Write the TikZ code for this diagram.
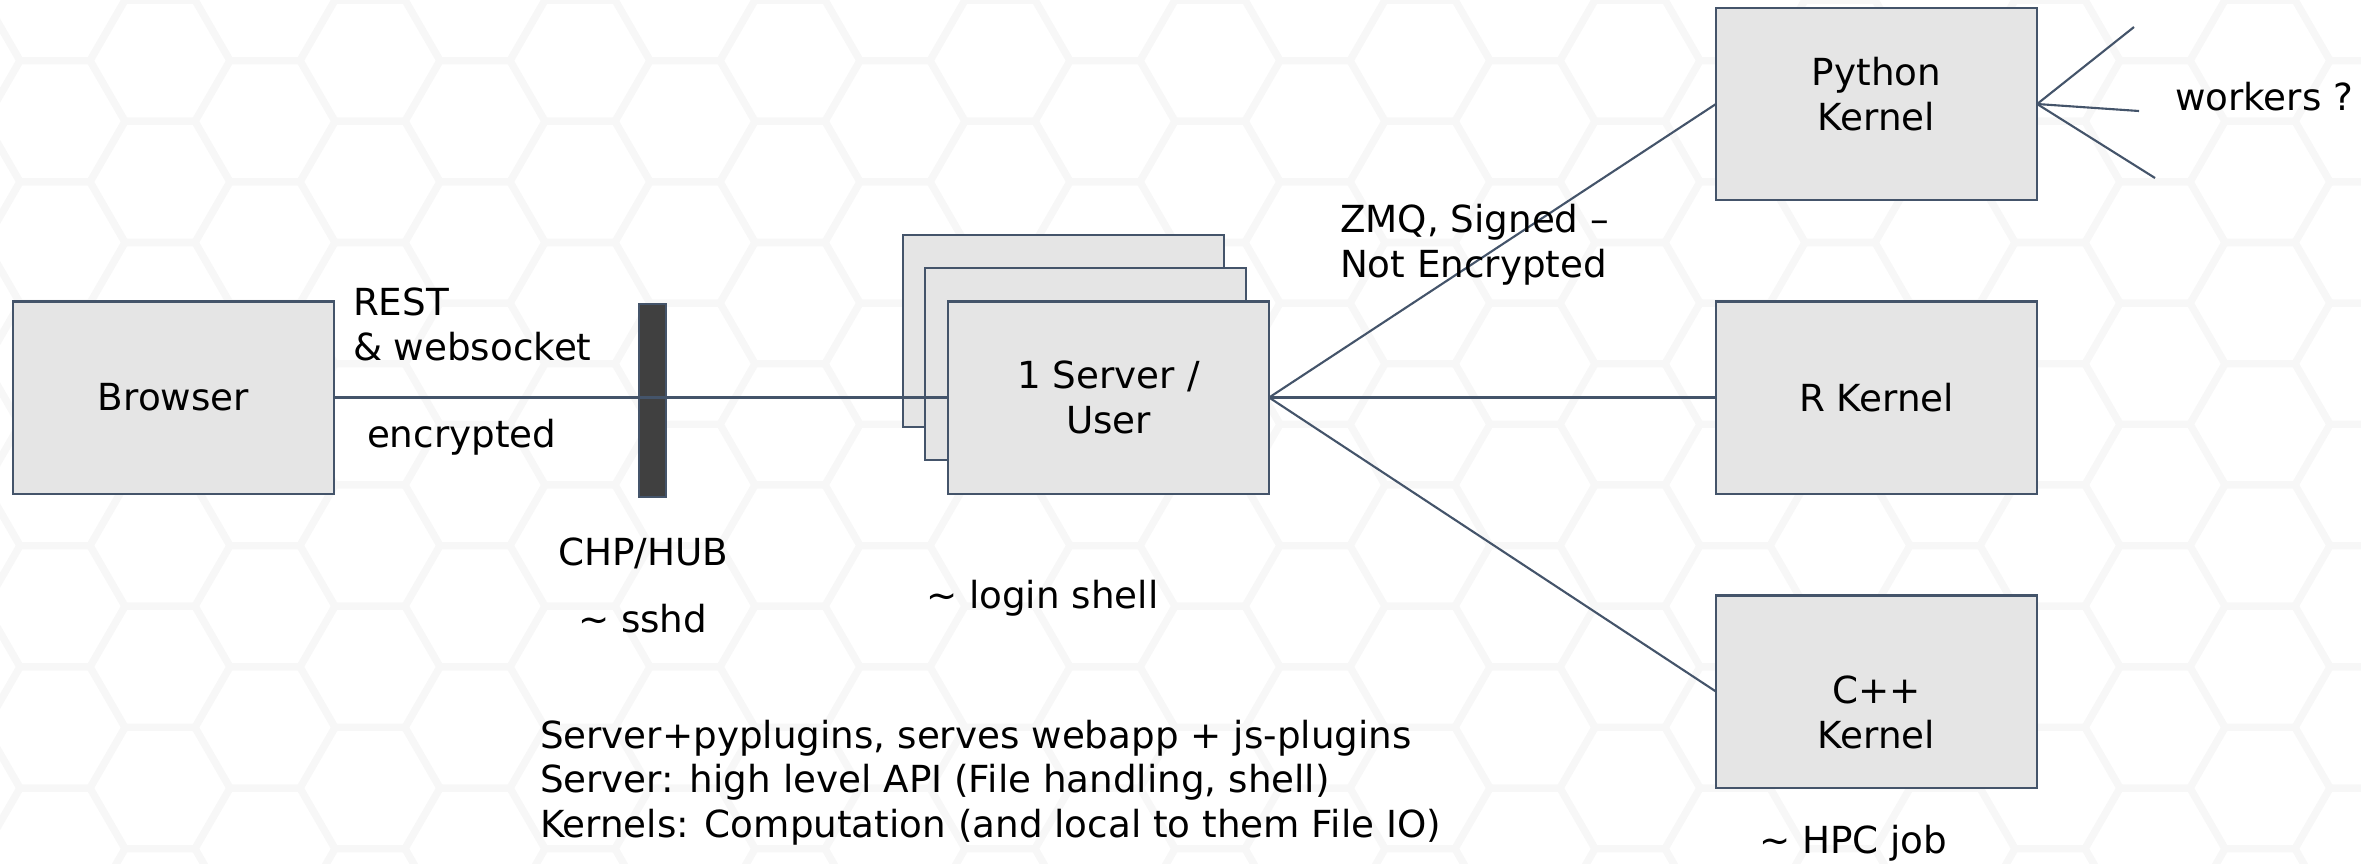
\documentclass[tikz,border=0pt]{standalone}
\usepackage{fontspec}
\setmainfont{DejaVu Sans}
\definecolor{edge}{HTML}{44546A}
\definecolor{boxfill}{HTML}{E5E5E5}
\definecolor{barfill}{HTML}{404040}
\definecolor{comb}{HTML}{F7F7F7}
\begin{document}
\begin{tikzpicture}[x=0.01cm,y=-0.01cm,
  txt/.style={font=\fontsize{10.6}{12.6}\selectfont, inner sep=0pt, outer sep=0pt},
  box/.style={txt, draw=edge, fill=boxfill, line width=0.6pt,
    minimum width=3.21cm, minimum height=1.92cm, align=center},
  link/.style={draw=edge, line width=0.6pt},
  note/.style={txt, anchor=base west, align=left},
  label/.style={txt, anchor=base, align=center},
  honey/.style={draw=comb, line width=2pt}]
\useasboundingbox (0,0) rectangle (2361,863);
\fill[white] (0,0) rectangle (2361,863);

% honeycomb backdrop
\begin{scope}
  \clip (0,0) rectangle (2361,863);
  \foreach \i in {-1,...,11}{
    \foreach \j in {-1,...,7}{
      \draw[honey, shift={({55+210*\i},{121.24*\j})}]
        (70,0) -- (35,60.62) -- (-35,60.62) -- (-70,0) -- (-35,-60.62) -- (35,-60.62) -- cycle;
      \draw[honey, shift={({160+210*\i},{60.62+121.24*\j})}]
        (70,0) -- (35,60.62) -- (-35,60.62) -- (-70,0) -- (-35,-60.62) -- (35,-60.62) -- cycle;
    }
  }
\end{scope}

% stacked per-user servers
\node[box] (back) at (1063.5,331) {};
\node[box] (mid) at (1085.5,364) {};
\node[box] (srv) at (1108.5,397.5) {1 Server /\\User};

% browser and proxy
\node[box] (browser) at (173.5,397.5) {Browser};
\node[draw=edge, fill=barfill, line width=0.4pt, minimum width=0.27cm,
      minimum height=1.93cm, inner sep=0pt] (hub) at (652.5,400.5) {};

% kernels
\node[box] (py) at (1876.5,104) {};
\node[box] (rk) at (1876.5,397.5) {R Kernel};
\node[box] (cpp) at (1876.5,691.5) {};
\node[label] (pytext) at (1876.5,130) {Python\\Kernel};
\node[label] (cpptext) at (1876.5,748) {C++\\Kernel};

% worker ends
\coordinate (w1) at (2134,27);
\coordinate (w2) at (2139,111);
\coordinate (w3) at (2155,178);

% connections
\draw[link] (browser.east) -- (srv.west);
\draw[link] (srv.east) -- (py.west);
\draw[link] (srv.east) -- (rk.west);
\draw[link] (srv.east) -- (cpp.west);
\draw[link] (py.east) -- (w1);
\draw[link] (py.east) -- (w2);
\draw[link] (py.east) -- (w3);

% annotations (multi-line nodes sit on their last baseline)
\node[note] (rest) at (353,360) {REST\\\& websocket};
\node[note] (enc) at (367,447) {encrypted};
\node[note] (hubname) at (558,565) {CHP/HUB};
\node[note] (sshd) at (578,632) {\textasciitilde{} sshd};
\node[note] (login) at (926,608) {\textasciitilde{} login shell};
\node[note] (zmq) at (1340,277) {ZMQ, Signed --\\Not Encrypted};
\node[note] (workers) at (2175,110) {workers ?};
\node[note] (roles) at (540,837) {Server+pyplugins, serves webapp + js-plugins\\Server: high level API (File handling, shell)\\Kernels: Computation (and local to them File IO)};
\node[note] (hpc) at (1759,853) {\textasciitilde{} HPC job};
\end{tikzpicture}
\end{document}
